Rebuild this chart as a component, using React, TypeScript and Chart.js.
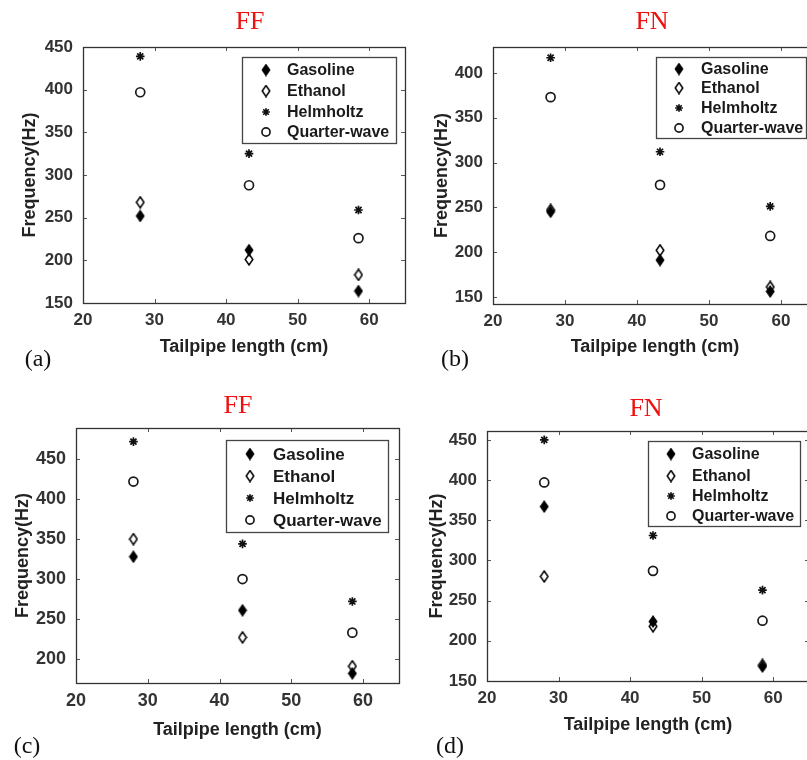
import React, { useEffect, useRef } from "react";
import { Chart, registerables } from "chart.js";
import { drawPoint } from "chart.js/helpers";

Chart.register(...registerables);

// ---------- data ----------
const tailpipeLengths = [28, 43.2, 58.5];
const seriesNames = ["Gasoline", "Ethanol", "Helmholtz", "Quarter-wave"];
const xTickStep = 10;
const yTickStep = 50;

const aGasoline = [252, 212, 164];
const aEthanol = [268, 201, 183];
const aHelmholtz = [439, 325, 259];
const aQuarterWave = [397, 288, 226];

const bGasoline = [245, 191, 156];
const bEthanol = [247, 202, 161];
const bHelmholtz = [417, 312, 251];
const bQuarterWave = [373, 275, 218];

const cGasoline = [328, 261, 182];
const cEthanol = [350, 227, 191];
const cHelmholtz = [472, 344, 272];
const cQuarterWave = [422, 300, 233];

const dGasoline = [367, 224, 168];
const dEthanol = [280, 218, 170];
const dHelmholtz = [450, 331, 263];
const dQuarterWave = [397, 287, 225];

const panelTitles = ["FF", "FN", "FF", "FN"];
const panelLabels = ["(a)", "(b)", "(c)", "(d)"];
const xAxisTitle = "Tailpipe length (cm)";
const yAxisTitle = "Frequency(Hz)";

// ---------- styling / layout ----------
const SANS = "'Liberation Sans', Arial, Helvetica, sans-serif";
const SERIF = "'Liberation Serif', 'Times New Roman', serif";

function makeDiamond(filled: boolean): HTMLCanvasElement {
  const c = document.createElement("canvas");
  c.width = 10;
  c.height = 13;
  const g = c.getContext("2d")!;
  g.beginPath();
  g.moveTo(5, 1);
  g.lineTo(8.8, 6.5);
  g.lineTo(5, 12);
  g.lineTo(1.2, 6.5);
  g.closePath();
  if (filled) {
    g.fillStyle = "#000";
    g.fill();
    g.strokeStyle = "#000";
    g.lineWidth = 1.2;
    g.stroke();
  } else {
    g.fillStyle = "#fff";
    g.fill();
    g.strokeStyle = "#000";
    g.lineWidth = 1.5;
    g.stroke();
  }
  return c;
}

type Panel = {
  data: number[][];
  yMin: number;
  yMax: number;
  area: { l: number; t: number; r: number; b: number };
  canvas: { x: number; y: number; w: number; h: number };
  yTitleCenterX: number;
  xTitleCenterY: number;
  tickFont: number;
  legend: { x: number; y: number; w: number; h: number; markerX: number; textX: number; rows: number[]; font: number };
  title: { x: number; y: number };
  label: { x: number; y: number };
};

const panels: Panel[] = [
  {
    data: [aGasoline, aEthanol, aHelmholtz, aQuarterWave],
    yMin: 150, yMax: 450,
    area: { l: 83, t: 47, r: 405, b: 303 },
    canvas: { x: 0, y: 20, w: 420, h: 357 },
    yTitleCenterX: 30, xTitleCenterY: 347, tickFont: 17,
    legend: { x: 242, y: 57, w: 154, h: 86, markerX: 266, textX: 287, rows: [70, 91, 112, 132], font: 16 },
    title: { x: 250, y: 21 }, label: { x: 38, y: 358 },
  },
  {
    data: [bGasoline, bEthanol, bHelmholtz, bQuarterWave],
    yMin: 142, yMax: 429,
    area: { l: 493, t: 47, r: 817, b: 304 },
    canvas: { x: 404, y: 20, w: 428, h: 357 },
    yTitleCenterX: 442, xTitleCenterY: 347, tickFont: 17,
    legend: { x: 656, y: 57, w: 150, h: 81, markerX: 679, textX: 701, rows: [69, 88, 108, 128], font: 16 },
    title: { x: 652, y: 21 }, label: { x: 455, y: 358 },
  },
  {
    data: [cGasoline, cEthanol, cHelmholtz, cQuarterWave],
    yMin: 170, yMax: 489,
    area: { l: 76, t: 428, r: 399, b: 683 },
    canvas: { x: 0, y: 395, w: 414, h: 365 },
    yTitleCenterX: 23, xTitleCenterY: 730, tickFont: 18,
    legend: { x: 226, y: 440, w: 162, h: 92, markerX: 250, textX: 273, rows: [454, 476, 498, 520], font: 17 },
    title: { x: 238, y: 405 }, label: { x: 27, y: 745 },
  },
  {
    data: [dGasoline, dEthanol, dHelmholtz, dQuarterWave],
    yMin: 150, yMax: 461,
    area: { l: 487, t: 431, r: 809, b: 681 },
    canvas: { x: 404, y: 395, w: 420, h: 365 },
    yTitleCenterX: 437, xTitleCenterY: 725, tickFont: 17,
    legend: { x: 648, y: 441, w: 152, h: 85, markerX: 671, textX: 692, rows: [454, 476, 496, 516], font: 16 },
    title: { x: 646, y: 408 }, label: { x: 450, y: 745 },
  },
];

function markerStyles() {
  const filled = makeDiamond(true);
  const hollow = makeDiamond(false);
  return [
    { pointStyle: filled as any, radius: 5, borderWidth: 1, borderColor: "#000", backgroundColor: "#000" },
    { pointStyle: hollow as any, radius: 5, borderWidth: 1.5, borderColor: "#000", backgroundColor: "#fff" },
    { pointStyle: "star", radius: 4.3, borderWidth: 1.7, borderColor: "#111", backgroundColor: "#111" },
    { pointStyle: "circle", radius: 4.5, borderWidth: 1.7, borderColor: "#1a1a1a", backgroundColor: "rgba(255,255,255,0)" },
  ];
}

function PanelChart({ p }: { p: Panel }) {
  const ref = useRef<HTMLCanvasElement | null>(null);
  useEffect(() => {
    const canvas = ref.current!;
    const styles = markerStyles();
    const cx = p.canvas.x;
    const cy = p.canvas.y;
    const lineH = 18 * 1.2;

    const framePlugin = {
      id: "frameAndLegend",
      afterDraw(chart: any) {
        const ctx = chart.ctx as CanvasRenderingContext2D;
        const a = chart.chartArea;
        ctx.save();
        // inward ticks
        ctx.strokeStyle = "#555";
        ctx.lineWidth = 1;
        const xs = chart.scales.x;
        const ys = chart.scales.y;
        const tl = 4;
        xs.ticks.forEach((t: any) => {
          const px = Math.round(xs.getPixelForValue(t.value)) + 0.5;
          ctx.beginPath();
          ctx.moveTo(px, a.bottom);
          ctx.lineTo(px, a.bottom - tl);
          ctx.moveTo(px, a.top);
          ctx.lineTo(px, a.top + tl);
          ctx.stroke();
        });
        ys.ticks.forEach((t: any) => {
          const py = Math.round(ys.getPixelForValue(t.value)) + 0.5;
          ctx.beginPath();
          ctx.moveTo(a.left, py);
          ctx.lineTo(a.left + tl, py);
          ctx.moveTo(a.right, py);
          ctx.lineTo(a.right - tl, py);
          ctx.stroke();
        });
        // frame
        ctx.strokeStyle = "#333";
        ctx.lineWidth = 1.3;
        ctx.strokeRect(Math.round(a.left) + 0.5, Math.round(a.top) + 0.5, Math.round(a.right - a.left), Math.round(a.bottom - a.top));

        // legend box
        const L = p.legend;
        ctx.fillStyle = "#fff";
        ctx.fillRect(L.x - cx, L.y - cy, L.w, L.h);
        ctx.strokeStyle = "#444";
        ctx.lineWidth = 1.3;
        ctx.strokeRect(L.x - cx + 0.5, L.y - cy + 0.5, L.w, L.h);
        chart.data.datasets.forEach((ds: any, i: number) => {
          const st = styles[i];
          const yy = L.rows[i] - cy;
          ctx.fillStyle = st.backgroundColor;
          ctx.strokeStyle = st.borderColor;
          ctx.lineWidth = st.borderWidth;
          drawPoint(ctx, { pointStyle: st.pointStyle, radius: st.radius * 0.9, rotation: 0, borderWidth: st.borderWidth } as any, L.markerX - cx, yy);
          ctx.fillStyle = "#1a1a1a";
          ctx.font = `bold ${L.font}px ${SANS}`;
          ctx.textAlign = "left";
          ctx.textBaseline = "middle";
          ctx.fillText(ds.label, L.textX - cx, yy + 1);
        });
        ctx.restore();
      },
    };

    const chart = new Chart(canvas, {
      type: "scatter",
      data: {
        datasets: seriesNames.map((name, i) => ({
          label: name,
          data: tailpipeLengths.map((x, k) => ({ x, y: p.data[i][k] })),
          pointStyle: styles[i].pointStyle,
          pointRadius: styles[i].radius,
          pointBorderWidth: styles[i].borderWidth,
          pointBorderColor: styles[i].borderColor,
          pointBackgroundColor: styles[i].backgroundColor,
          showLine: false,
        })),
      },
      options: {
        responsive: false,
        animation: false,
        devicePixelRatio: 1,
        layout: {
          padding: {
            left: 0,
            top: p.area.t - cy,
            right: cx + p.canvas.w - p.area.r,
            bottom: 0,
          },
        },
        plugins: {
          legend: { display: false },
          tooltip: { enabled: false },
        },
        scales: {
          x: {
            type: "linear",
            min: 20,
            max: 65,
            afterFit: (s: any) => {
              s.height = cy + p.canvas.h - p.area.b;
            },
            grid: { display: false, drawTicks: false },
            border: { display: false },
            ticks: {
              stepSize: xTickStep,
              includeBounds: false,
              padding: 7,
              color: "#333",
              font: { family: SANS, size: p.tickFont, weight: "bold" },
              maxRotation: 0,
            },
            title: {
              display: true,
              text: xAxisTitle,
              color: "#222",
              font: { family: SANS, size: 18, weight: "bold", lineHeight: 1.2 },
              padding: { top: 0, bottom: cy + p.canvas.h - p.xTitleCenterY - lineH / 2 },
            },
          },
          y: {
            type: "linear",
            min: p.yMin,
            max: p.yMax,
            afterFit: (s: any) => {
              s.width = p.area.l - cx;
            },
            grid: { display: false, drawTicks: false },
            border: { display: false },
            ticks: {
              stepSize: yTickStep,
              includeBounds: false,
              padding: 10,
              color: "#333",
              font: { family: SANS, size: p.tickFont, weight: "bold" },
            },
            title: {
              display: true,
              text: yAxisTitle,
              color: "#222",
              font: { family: SANS, size: 18, weight: "bold", lineHeight: 1.2 },
              padding: { top: p.yTitleCenterX - cx - lineH / 2, bottom: 0 },
            },
          },
        },
      } as any,
      plugins: [framePlugin],
    });
    return () => chart.destroy();
  }, [p]);

  return (
    <canvas
      ref={ref}
      width={p.canvas.w}
      height={p.canvas.h}
      style={{ position: "absolute", left: p.canvas.x, top: p.canvas.y, width: p.canvas.w, height: p.canvas.h }}
    />
  );
}

export default function App() {
  return (
    <div style={{ position: "absolute", left: 0, top: 0, width: 807, height: 760, overflow: "hidden", background: "#fff" }}>
      {panels.map((p, i) => (
        <PanelChart key={i} p={p} />
      ))}
      {panels.map((p, i) => (
        <div
          key={"t" + i}
          style={{
            position: "absolute",
            left: p.title.x,
            top: p.title.y,
            transform: "translate(-50%, -50%)",
            fontFamily: SERIF,
            fontSize: 26,
            color: "#f01010",
            lineHeight: 1,
            whiteSpace: "nowrap",
          }}
        >
          {panelTitles[i]}
        </div>
      ))}
      {panels.map((p, i) => (
        <div
          key={"l" + i}
          style={{
            position: "absolute",
            left: p.label.x,
            top: p.label.y,
            transform: "translate(-50%, -50%)",
            fontFamily: SERIF,
            fontSize: 24,
            color: "#111",
            lineHeight: 1,
            whiteSpace: "nowrap",
          }}
        >
          {panelLabels[i]}
        </div>
      ))}
    </div>
  );
}
